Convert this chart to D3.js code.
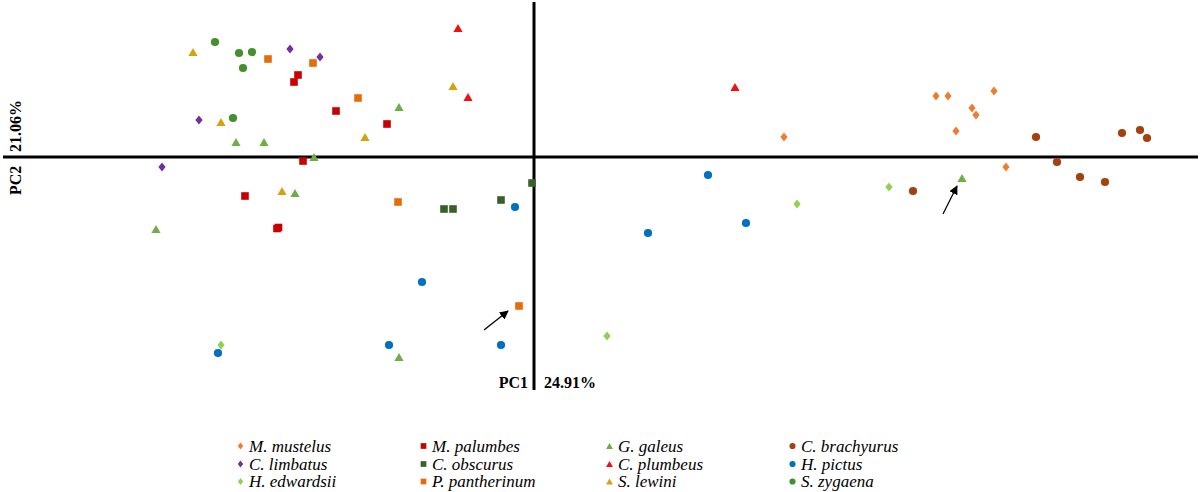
<!DOCTYPE html>
<html>
<head>
<meta charset="utf-8">
<script src="https://cdn.jsdelivr.net/npm/d3@7"></script>
<style>
  html, body { margin: 0; padding: 0; background: #fff; }
  svg { display: block; }
</style>
</head>
<body>
<svg id="chart" width="1200" height="492"></svg>
<script>
// ---- Data (PC1, PC2 scores, arbitrary units) ----
const species = ["M. mustelus", "M. palumbes", "G. galeus", "C. brachyurus",
                 "C. limbatus", "C. obscurus", "C. plumbeus", "H. pictus",
                 "H. edwardsii", "P. pantherinum", "S. lewini", "S. zygaena"];
const shapes = ["diamond", "square", "triangle", "circle",
                "diamond", "square", "triangle", "circle",
                "diamond", "square", "triangle", "circle"];
const colors = ["#ED7D31", "#C80000", "#70AD47", "#A4410E",
                "#7030A0", "#38602A", "#F01010", "#0070C0",
                "#92D050", "#E46C0A", "#D4A20F", "#43902C"];

const mMustelus = [[2.50,0.20],[4.02,0.61],[4.14,0.61],[4.60,0.66],[4.38,0.49],[4.42,0.42],[4.22,0.26],[4.72,-0.10]];
const mPalumbes = [[-2.36,0.82],[-2.40,0.75],[-1.98,0.46],[-1.47,0.33],[-2.31,-0.04],[-2.89,-0.39],[-2.57,-0.715],[-2.555,-0.705]];
const gGaleus = [[-1.35,0.50],[-2.98,0.15],[-2.70,0.15],[-2.20,0.00],[-2.39,-0.36],[-3.78,-0.72],[-1.35,-2.00],[4.28,-0.21]];
const cBrachyurus = [[5.02,0.20],[5.88,0.24],[6.06,0.27],[6.13,0.19],[5.23,-0.05],[5.46,-0.20],[5.71,-0.25],[3.79,-0.34]];
const cLimbatus = [[-2.44,1.08],[-2.14,1.00],[-3.35,0.37],[-3.72,-0.10]];
const cObscurus = [[-0.90,-0.52],[-0.81,-0.52],[-0.33,-0.43],[-0.02,-0.26]];
const cPlumbeus = [[-0.76,1.29],[-0.66,0.60],[2.01,0.70]];
const hPictus = [[-0.19,-0.50],[-1.12,-1.25],[-1.45,-1.88],[-0.33,-1.88],[-3.16,-1.96],[1.74,-0.18],[2.12,-0.66],[1.14,-0.76]];
const hEdwardsii = [[-3.13,-1.88],[0.73,-1.79],[2.63,-0.47],[3.55,-0.30]];
const pPantherinum = [[-2.66,0.98],[-2.21,0.94],[-1.76,0.59],[-1.36,-0.45],[-0.15,-1.49]];
const sLewini = [[-3.41,1.05],[-0.81,0.71],[-1.69,0.20],[-3.13,0.35],[-2.52,-0.34]];
const sZygaena = [[-3.19,1.15],[-2.95,1.04],[-2.82,1.05],[-2.91,0.89],[-3.01,0.39]];

const seriesValues = [mMustelus, mPalumbes, gGaleus, cBrachyurus,
                      cLimbatus, cObscurus, cPlumbeus, hPictus,
                      hEdwardsii, pPantherinum, sLewini, sZygaena];

// arrows [from, to] in data coords
const arrows = [[[-0.50,-1.73],[-0.26,-1.54]], [[4.09,-0.57],[4.23,-0.29]]];

const xAxisLabel = "PC1", xAxisPct = "24.91%";
const yAxisLabel = "PC2", yAxisPct = "21.06%";

// ---- Drawing ----
const svg = d3.select("#chart");
const x = d3.scaleLinear().domain([-5.31, 6.64]).range([3, 1198]);
const y = d3.scaleLinear().domain([-2.33, 1.55]).range([390, 2]);

function shapePath(shape, s) {
  // s: scale factor (1 for plot markers)
  if (shape === "diamond") {
    const hw = 3.6 * s, hh = 4.6 * s;
    return `M0,${-hh}L${hw},0L0,${hh}L${-hw},0Z`;
  } else if (shape === "square") {
    const h = 3.8 * s;
    return `M${-h},${-h}H${h}V${h}H${-h}Z`;
  } else if (shape === "triangle") {
    const hw = 4.6 * s, hh = 3.9 * s;
    return `M0,${-hh}L${hw},${hh}L${-hw},${hh}Z`;
  } else {
    const r = 4.1 * s;
    return `M${r},0A${r},${r} 0 1,1 ${-r},0A${r},${r} 0 1,1 ${r},0Z`;
  }
}

// axes lines (through origin)
svg.append("line")
  .attr("x1", x(-5.31)).attr("x2", x(6.64))
  .attr("y1", y(0)).attr("y2", y(0))
  .attr("stroke", "#000").attr("stroke-width", 3);
svg.append("line")
  .attr("x1", x(0)).attr("x2", x(0))
  .attr("y1", y(1.55)).attr("y2", y(-2.33))
  .attr("stroke", "#000").attr("stroke-width", 3);

// points
const g = svg.append("g");
seriesValues.forEach((vals, i) => {
  g.selectAll(null).data(vals).enter().append("path")
    .attr("d", shapePath(shapes[i], 1))
    .attr("transform", d => `translate(${x(d[0])},${y(d[1])})`)
    .attr("fill", colors[i]);
});

// arrows
const defs = svg.append("defs");
defs.append("marker").attr("id", "ah")
  .attr("viewBox", "0 0 10 10").attr("refX", 9).attr("refY", 5)
  .attr("markerWidth", 9).attr("markerHeight", 9)
  .attr("markerUnits", "userSpaceOnUse")
  .attr("orient", "auto")
  .append("path").attr("d", "M0,0L10,5L0,10Z").attr("fill", "#000");
arrows.forEach(a => {
  svg.append("line")
    .attr("x1", x(a[0][0])).attr("y1", y(a[0][1]))
    .attr("x2", x(a[1][0])).attr("y2", y(a[1][1]))
    .attr("stroke", "#000").attr("stroke-width", 1.3)
    .attr("marker-end", "url(#ah)");
});

// axis labels
const lf = "'Liberation Serif', 'Times New Roman', serif";
svg.append("text").attr("x", x(0) - 6).attr("y", 388)
  .attr("text-anchor", "end").attr("font-family", lf)
  .attr("font-weight", "bold").attr("font-size", 16).text(xAxisLabel);
svg.append("text").attr("x", x(0) + 10).attr("y", 388)
  .attr("text-anchor", "start").attr("font-family", lf)
  .attr("font-weight", "bold").attr("font-size", 16).text(xAxisPct);
svg.append("text").attr("transform", `translate(20.5,${y(0) + 38}) rotate(-90)`)
  .attr("text-anchor", "start").attr("font-family", lf)
  .attr("font-weight", "bold").attr("font-size", 16).text(yAxisLabel);
svg.append("text").attr("transform", `translate(20.5,${y(0) - 5}) rotate(-90)`)
  .attr("text-anchor", "start").attr("font-family", lf)
  .attr("font-weight", "bold").attr("font-size", 16).text(yAxisPct);

// legend
const colX = [240.5, 423.5, 609.5, 792.5];
const rowY = [446, 464, 481.5];
species.forEach((name, i) => {
  const c = i % 4, r = Math.floor(i / 4);
  const lg = svg.append("g").attr("transform", `translate(${colX[c]},${rowY[r]})`);
  lg.append("path").attr("d", shapePath(shapes[i], 0.75)).attr("fill", colors[i]);
  lg.append("text").attr("x", 8.5).attr("y", 5.5)
    .attr("font-family", lf).attr("font-style", "italic")
    .attr("font-size", 17).attr("fill", "#000").text(name);
});
</script>
</body>
</html>
